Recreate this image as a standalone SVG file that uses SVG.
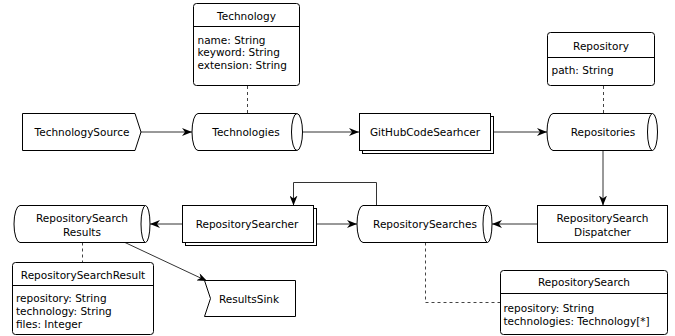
<svg xmlns="http://www.w3.org/2000/svg" width="675" height="336" viewBox="0 0 675 336">
<defs>
<style>
text{font-family:"DejaVu Sans",Verdana,sans-serif;font-size:10.5px;fill:#000}
.c{text-anchor:middle;dominant-baseline:central}
.l{text-anchor:start;dominant-baseline:central}
.n{fill:#fff;stroke:#000;stroke-width:1}
.e{fill:none;stroke:#333;stroke-width:1}
.d{fill:none;stroke:#444;stroke-width:1;stroke-dasharray:3 3}
</style>
<marker id="ah" viewBox="0 0 10 8" refX="10" refY="4" markerWidth="10" markerHeight="8" markerUnits="userSpaceOnUse" orient="auto">
<path d="M0,0 L10,4 L0,8 L3,4 Z" fill="#000"/>
</marker>
</defs>
<g id="connectors">
<path class="e" d="M141,132 L192,132" marker-end="url(#ah)"/>
<path class="e" d="M303,132 L359,132" marker-end="url(#ah)"/>
<path class="e" d="M491,132 L547,132" marker-end="url(#ah)"/>
<path class="e" d="M603,151 L603,205.5" marker-end="url(#ah)"/>
<path class="e" d="M537,224 L492,224" marker-end="url(#ah)"/>
<path class="e" d="M313,224 L357,224" marker-end="url(#ah)"/>
<path class="e" d="M376.5,205.5 L376.5,182.5 L293.5,182.5 L293.5,205.5" marker-end="url(#ah)"/>
<path class="e" d="M182,224 L150,224" marker-end="url(#ah)"/>
<path class="e" d="M125,242.5 L207,281" marker-end="url(#ah)"/>
<path class="d" d="M247.5,86 L247.5,113"/>
<path class="d" d="M603.5,86 L603.5,113"/>
<path class="d" d="M82.5,242.5 L82.5,262"/>
<path class="d" d="M425.5,242.5 L425.5,302.5 L500,302.5"/>
</g>
<g id="technology">
<rect class="n" x="193.5" y="3.5" width="106" height="82" rx="3"/>
<path class="n" d="M193.5,26.5 L299.5,26.5"/>
<text class="c" x="246.5" y="15.5">Technology</text>
<text class="l" x="197.5" y="39.5">name: String</text>
<text class="l" x="197.5" y="52">keyword: String</text>
<text class="l" x="197.5" y="64.5">extension: String</text>
</g>
<g id="technologySource">
<path class="n" d="M22.5,113.5 L135,113.5 L141,132 L135,150.5 L22.5,150.5 Z"/>
<text class="c" x="82" y="132">TechnologySource</text>
</g>
<g id="technologies">
<path class="n" d="M198,113.5 L297,113.5 A5.5,18.5 0 0 1 297,150.5 L198,150.5 A6,18.5 0 0 1 198,113.5 Z"/>
<path class="n" fill="none" d="M297,113.5 A5.5,18.5 0 0 0 297,150.5"/>
<text class="c" x="246" y="132">Technologies</text>
</g>
<g id="gitHubCodeSearcher">
<rect class="n" x="362.5" y="116.5" width="131" height="37"/>
<rect class="n" x="359.5" y="113.5" width="131" height="37"/>
<text class="c" x="425" y="132">GitHubCodeSearhcer</text>
</g>
<g id="repository">
<rect class="n" x="547.5" y="32.5" width="107" height="53" rx="3"/>
<path class="n" d="M547.5,57.5 L654.5,57.5"/>
<text class="c" x="601" y="45.5">Repository</text>
<text class="l" x="551.5" y="70">path: String</text>
</g>
<g id="repositories">
<path class="n" d="M553,113.5 L652.5,113.5 A5,18.5 0 0 1 652.5,150.5 L553,150.5 A6,18.5 0 0 1 553,113.5 Z"/>
<path class="n" fill="none" d="M652.5,113.5 A5,18.5 0 0 0 652.5,150.5"/>
<text class="c" x="603" y="132">Repositories</text>
</g>
<g id="repositorySearchDispatcher">
<rect class="n" x="537.5" y="205.5" width="130" height="37"/>
<text class="c" x="602.5" y="217.5">RepositorySearch</text>
<text class="c" x="602.5" y="231.5">Dispatcher</text>
</g>
<g id="repositorySearches">
<path class="n" d="M363,205.5 L487.5,205.5 A4.5,18.5 0 0 1 487.5,242.5 L363,242.5 A6,18.5 0 0 1 363,205.5 Z"/>
<path class="n" fill="none" d="M487.5,205.5 A4.5,18.5 0 0 0 487.5,242.5"/>
<text class="c" x="425" y="224">RepositorySearches</text>
</g>
<g id="repositorySearcher">
<rect class="n" x="185.5" y="208.5" width="131" height="37"/>
<rect class="n" x="182.5" y="205.5" width="131" height="37"/>
<text class="c" x="247" y="224">RepositorySearcher</text>
</g>
<g id="repositorySearchResults">
<path class="n" d="M20,205.5 L145.5,205.5 A4.5,18.5 0 0 1 145.5,242.5 L20,242.5 A6,18.5 0 0 1 20,205.5 Z"/>
<path class="n" fill="none" d="M145.5,205.5 A4.5,18.5 0 0 0 145.5,242.5"/>
<text class="c" x="82" y="217.5">RepositorySearch</text>
<text class="c" x="82" y="231.5">Results</text>
</g>
<g id="repositorySearchResult">
<rect class="n" x="12.5" y="262.5" width="141" height="72" rx="3"/>
<path class="n" d="M12.5,285.5 L153.5,285.5"/>
<text class="c" x="83" y="274.5">RepositorySearchResult</text>
<text class="l" x="16" y="298">repository: String</text>
<text class="l" x="16" y="311">technology: String</text>
<text class="l" x="16" y="324">files: Integer</text>
</g>
<g id="resultsSink">
<path class="n" d="M204.5,280.5 L295.5,280.5 L295.5,316.5 L204.5,316.5 L210.5,298.5 Z"/>
<text class="c" x="249" y="298.5">ResultsSink</text>
</g>
<g id="repositorySearch">
<rect class="n" x="500.5" y="270.5" width="167" height="64" rx="3"/>
<path class="n" d="M500.5,293.5 L667.5,293.5"/>
<text class="c" x="584" y="282">RepositorySearch</text>
<text class="l" x="503.5" y="308">repository: String</text>
<text class="l" x="503.5" y="321">technologies: Technology[*]</text>
</g>
</svg>
